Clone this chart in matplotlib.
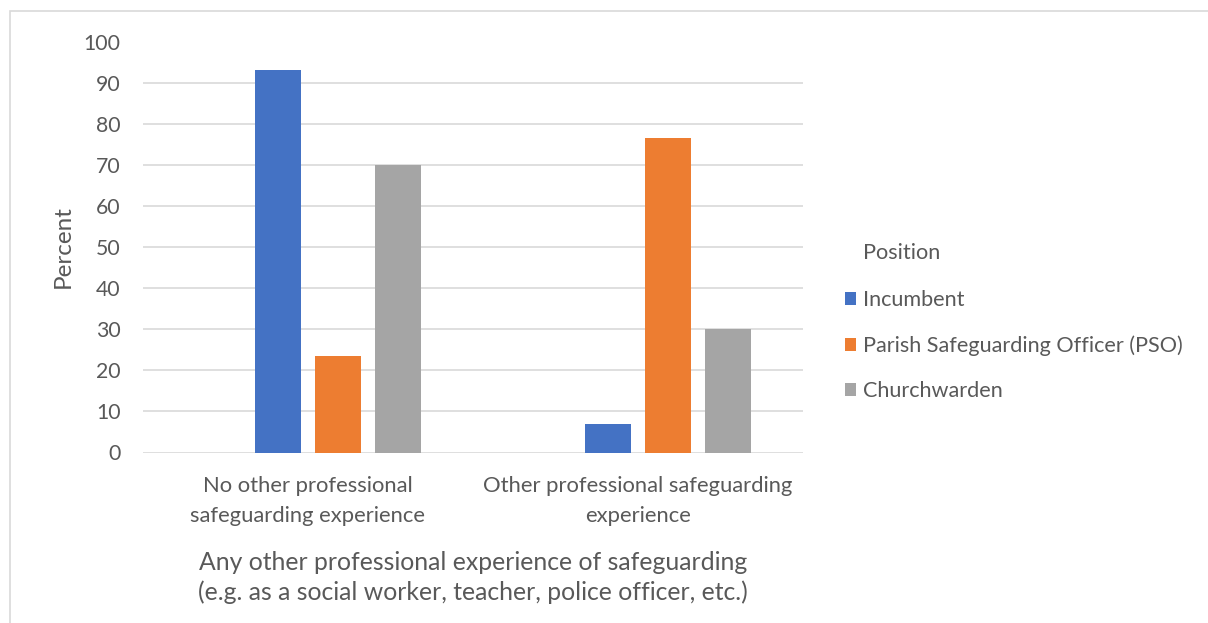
import numpy as np
import matplotlib.pyplot as plt
from matplotlib.patches import Rectangle

# Datos
categories = ["No other professional\nsafeguarding experience",
              "Other professional safeguarding\nexperience"]
series_names = ["Incumbent", "Parish Safeguarding Officer (PSO)", "Churchwarden"]
incumbent = [93.0, 7.0]
pso = [23.5, 76.5]
churchwarden = [70.0, 30.0]
yticks = [0, 10, 20, 30, 40, 50, 60, 70, 80, 90, 100]

colors = ["#4472C4", "#ED7D31", "#A5A5A5"]
text_color = "#595959"
grid_color = "#D9D9D9"

plt.rcParams['font.family'] = ['Lato', 'DejaVu Sans']

fig = plt.figure(figsize=(12.08, 6.23), dpi=100)
ax = fig.add_axes([143 / 1208, 1 - 452.5 / 623, 660 / 1208, 411 / 623])

# borde del area del grafico
fig.patches.append(Rectangle((10 / 1208, -0.1), 1.1, 1 - 11 / 623 + 0.1,
                             transform=fig.transFigure, fill=False,
                             edgecolor=grid_color, linewidth=1.2))

x = np.arange(len(categories))
width = 46 / 330
# hay un hueco vacio a la izquierda (serie vacia)
offsets = [-30 / 330, 30 / 330, 90 / 330]
for vals, name, c, off in zip([incumbent, pso, churchwarden], series_names, colors, offsets):
    ax.bar(x + off, vals, width, color=c, label=name, zorder=3)

ax.set_xlim(-0.5, 1.5)
ax.set_ylim(0, 100)
ax.set_yticks(yticks)
ax.set_xticks(x)
ax.set_xticklabels(categories, fontsize=15.8, color=text_color, linespacing=1.6)
ax.tick_params(axis='y', labelsize=15.3, labelcolor=text_color, length=0, pad=16)
ax.tick_params(axis='x', length=0, pad=17)
ax.yaxis.grid(True, color=grid_color, linewidth=1.2, zorder=0)
for s in ax.spines.values():
    s.set_visible(False)

ax.set_ylabel("Percent", fontsize=17.5, color=text_color, labelpad=7)
ax.set_xlabel("Any other professional experience of safeguarding\n(e.g. as a social worker, teacher, police officer, etc.)",
              fontsize=17.8, color=text_color, labelpad=18, linespacing=1.35)

leg = fig.legend(loc='upper left', bbox_to_anchor=(825 / 1208, 1 - 271 / 623),
                 frameon=False, fontsize=15.6,
                 handlelength=0.55, handleheight=0.55, handletextpad=0.3,
                 labelspacing=1.15)
for t in leg.get_texts():
    t.set_color(text_color)
fig.text(863 / 1208, 1 - 253 / 623, "Position", fontsize=15.6, color=text_color,
         ha='left', va='center')

fig.savefig("out.png", dpi=100, facecolor="white")
